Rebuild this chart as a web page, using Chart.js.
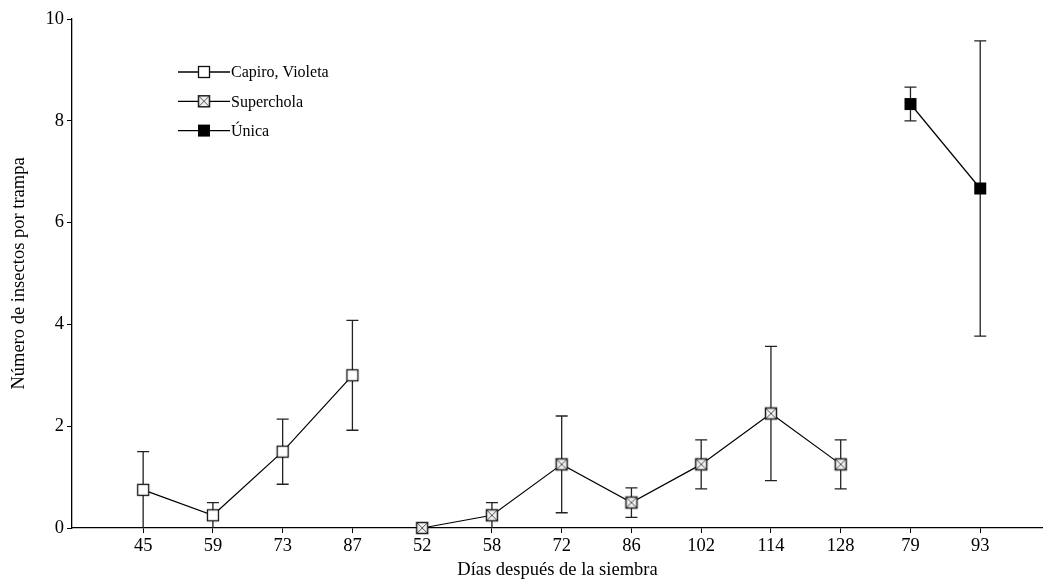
<!DOCTYPE html>
<html>
<head>
<meta charset="utf-8">
<script src="https://cdn.jsdelivr.net/npm/chart.js@4.4.1/dist/chart.umd.min.js"></script>
<style>
  body { margin: 0; background: #fff; }
  canvas { display: block; }
</style>
</head>
<body>
<canvas id="grafica" width="1043" height="582"></canvas>
<script>
// --- Datos ---
const dias = ['45', '59', '73', '87', '52', '58', '72', '86', '102', '114', '128', '79', '93'];
const variedades = ['Capiro, Violeta', 'Superchola', 'Única'];

const capiro = [0.75, 0.25, 1.5, 3.0];
const capiroErr = [0.75, 0.25, 0.64, 1.08];

const superchola = [0, 0.25, 1.25, 0.5, 1.25, 2.25, 1.25];
const supercholaErr = [0, 0.25, 0.95, 0.29, 0.48, 1.32, 0.48];

const unica = [8.33, 6.67];
const unicaErr = [0.33, 2.9];

const fuente = "'Liberation Serif', 'Times New Roman', serif";

// Puntos: cada variedad ocupa su tramo de categorías en el eje x
function puntos(valores, errores, inicio) {
    return valores.map((v, i) => ({ x: inicio + i, y: v, err: errores[i] }));
}

// --- Marcadores ---
function dibujarMarcador(ctx, tipo, x, y) {
    const s = 11;
    ctx.save();
    ctx.lineWidth = 1.3;
    ctx.strokeStyle = '#111';
    if (tipo === 'vacio') {
        ctx.fillStyle = '#fff';
        ctx.fillRect(x - s / 2, y - s / 2, s, s);
        ctx.strokeRect(x - s / 2, y - s / 2, s, s);
    } else if (tipo === 'cruz') {
        ctx.fillStyle = '#f0f0f0';
        ctx.fillRect(x - s / 2, y - s / 2, s, s);
        ctx.strokeStyle = '#555';
        ctx.lineWidth = 1;
        ctx.beginPath();
        ctx.moveTo(x - s / 2, y - s / 2); ctx.lineTo(x + s / 2, y + s / 2);
        ctx.moveTo(x + s / 2, y - s / 2); ctx.lineTo(x - s / 2, y + s / 2);
        ctx.stroke();
        ctx.strokeStyle = '#222';
        ctx.lineWidth = 1.5;
        ctx.strokeRect(x - s / 2, y - s / 2, s, s);
    } else {
        ctx.fillStyle = '#000';
        ctx.fillRect(x - s / 2 - 0.5, y - s / 2 - 0.5, s + 1, s + 1);
    }
    ctx.restore();
}

function crearMarcador(tipo) {
    const c = document.createElement('canvas');
    c.width = 16; c.height = 16;
    dibujarMarcador(c.getContext('2d'), tipo, 8, 8);
    return c;
}

const tipos = ['vacio', 'cruz', 'lleno'];
const marcadores = tipos.map(crearMarcador);

// --- Barras de error (detrás de los marcadores) ---
const barrasError = {
    id: 'barrasError',
    beforeDatasetsDraw(chart) {
        const ctx = chart.ctx;
        const xs = chart.scales.x, ys = chart.scales.y;
        ctx.save();
        ctx.strokeStyle = '#222';
        ctx.lineWidth = 1.3;
        chart.data.datasets.forEach(ds => {
            ds.data.forEach(p => {
                if (!p.err) return;
                const x = xs.getPixelForValue(p.x);
                const y1 = ys.getPixelForValue(p.y + p.err);
                const y2 = ys.getPixelForValue(Math.max(0, p.y - p.err));
                ctx.beginPath();
                ctx.moveTo(x, y1); ctx.lineTo(x, y2);
                ctx.moveTo(x - 6, y1); ctx.lineTo(x + 6, y1);
                if (p.y - p.err > 0.01) { ctx.moveTo(x - 6, y2); ctx.lineTo(x + 6, y2); }
                ctx.stroke();
            });
        });
        ctx.restore();
    }
};

// --- Leyenda con línea y marcador ---
const leyenda = {
    id: 'leyendaLinea',
    afterDraw(chart) {
        const ctx = chart.ctx;
        ctx.save();
        ctx.font = '16px ' + fuente;
        ctx.textBaseline = 'middle';
        ctx.fillStyle = '#000';
        variedades.forEach((nombre, i) => {
            const y = 72 + i * 29.3;
            ctx.strokeStyle = '#000';
            ctx.lineWidth = 1.3;
            ctx.beginPath();
            ctx.moveTo(178, y); ctx.lineTo(230, y);
            ctx.stroke();
            dibujarMarcador(ctx, tipos[i], 204, y);
            ctx.fillText(nombre, 231, y + 1);
        });
        ctx.restore();
    }
};

const series = [
    puntos(capiro, capiroErr, 0),
    puntos(superchola, supercholaErr, 4),
    puntos(unica, unicaErr, 11)
];

new Chart(document.getElementById('grafica').getContext('2d'), {
    type: 'line',
    data: {
        datasets: series.map((datos, i) => ({
            label: variedades[i],
            data: datos,
            borderColor: '#000',
            borderWidth: 1.2,
            pointStyle: marcadores[i],
            pointRadius: 6,
            pointHoverRadius: 6,
            fill: false,
            tension: 0,
            clip: false
        }))
    },
    options: {
        responsive: false,
        animation: false,
        layout: { autoPadding: false, padding: { top: 19, right: 0, left: 0, bottom: 0 } },
        plugins: { legend: { display: false }, tooltip: { enabled: false } },
        scales: {
            x: {
                type: 'linear',
                min: -1.02,
                max: 12.9,
                afterBuildTicks: s => { s.ticks = dias.map((d, i) => ({ value: i })); },
                afterFit: s => { s.height = 54; },
                ticks: {
                    callback: v => dias[v],
                    color: '#000',
                    padding: 2,
                    maxRotation: 0,
                    autoSkip: false,
                    font: { family: fuente, size: 18.5 }
                },
                grid: { drawOnChartArea: false, drawTicks: true, tickLength: 5, color: '#000' },
                border: { display: true, color: '#000', width: 1.3 },
                title: {
                    display: true,
                    text: 'Días después de la siembra',
                    color: '#000',
                    padding: { top: 0, bottom: 1 },
                    font: { family: fuente, size: 18.5 }
                }
            },
            y: {
                min: 0,
                max: 10,
                afterFit: s => { s.width = 72; },
                ticks: {
                    stepSize: 2,
                    color: '#000',
                    padding: 3,
                    font: { family: fuente, size: 18.5 }
                },
                grid: { drawOnChartArea: false, drawTicks: true, tickLength: 5, color: '#000' },
                border: { display: true, color: '#000', width: 1.3 },
                title: {
                    display: true,
                    text: 'Número de insectos por trampa',
                    color: '#000',
                    padding: { top: 8, bottom: 0 },
                    font: { family: fuente, size: 18.5 }
                }
            }
        }
    },
    plugins: [barrasError, leyenda]
});
</script>
</body>
</html>
